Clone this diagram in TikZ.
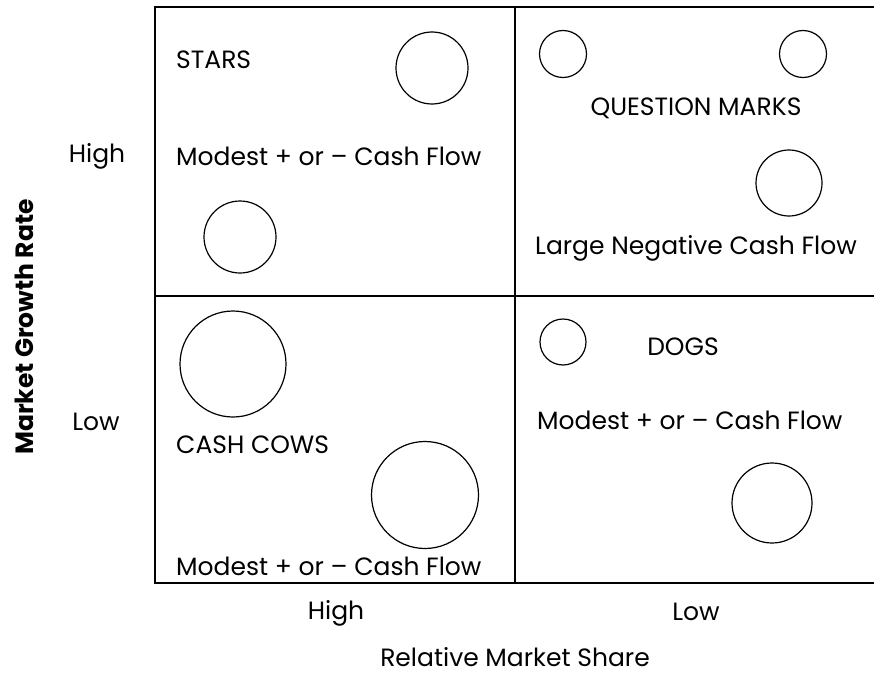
\documentclass[tikz,border=0pt]{standalone}
\usepackage{fontspec}
\setmainfont{Poppins}
\usetikzlibrary{positioning}

\tikzset{
  grid line/.style={draw=black, line width=1.6pt},
  bubble/.style={circle, draw=black, line width=1.2pt, inner sep=0pt},
  cell text/.style={font=\fontsize{25}{30}\selectfont, inner sep=0pt},
  axis text/.style={font=\fontsize{25}{30}\selectfont, inner sep=0pt},
}

\begin{document}
\begin{tikzpicture}[x=1pt, y=-1pt]
\useasboundingbox (0,0) rectangle (874,674);

% the four cells
\coordinate (nw) at (155,7);
\coordinate (se) at (877,583);
\coordinate (top mid) at (515,7);
\coordinate (bot mid) at (515,583);
\coordinate (left mid) at (155,296);
\coordinate (right mid) at (877,296);
\draw[grid line] (nw) rectangle (se);
\draw[grid line] (top mid) -- (bot mid);
\draw[grid line] (left mid) -- (right mid);

% stars
\node[cell text, anchor=west] (stars) at (176,60) {STARS};
\node[cell text, anchor=west] (stars flow) at (176,156) {Modest + or -- Cash Flow};
\node[bubble, minimum size=72pt] (stars a) at (432,68) {};
\node[bubble, minimum size=72pt] (stars b) at (240,237) {};

% question marks
\node[bubble, minimum size=47pt] (qm a) at (563,54) {};
\node[bubble, minimum size=47pt] (qm b) at (803,54) {};
\node[cell text] (qm) at (696,108) {QUESTION MARKS};
\node[bubble, minimum size=66pt] (qm c) at (789,183) {};
\node[cell text, anchor=west] (qm flow) at (535,248) {Large Negative Cash Flow};

% cash cows
\node[bubble, minimum size=106pt] (cows a) at (233,364) {};
\node[cell text, anchor=west] (cows) at (176,445) {CASH COWS};
\node[bubble, minimum size=107pt] (cows b) at (425,495) {};
\node[cell text, anchor=west] (cows flow) at (176,566) {Modest + or -- Cash Flow};

% dogs
\node[bubble, minimum size=46pt] (dogs a) at (563,342) {};
\node[cell text] (dogs) at (683,347) {DOGS};
\node[cell text, anchor=west] (dogs flow) at (537,420) {Modest + or -- Cash Flow};
\node[bubble, minimum size=80pt] (dogs b) at (772,503) {};

% axes
\node[axis text] (growth high) at (97,156) {High};
\node[axis text] (growth low) at (96,422) {Low};
\node[axis text] (share high) at (336,613) {High};
\node[axis text] (share low) at (696,612) {Low};
\node[axis text] (share) at (515,657) {Relative Market Share};
\node[axis text, font=\fontsize{25}{30}\selectfont\bfseries, rotate=90] (growth) at (24,327) {Market Growth Rate};
\end{tikzpicture}
\end{document}
